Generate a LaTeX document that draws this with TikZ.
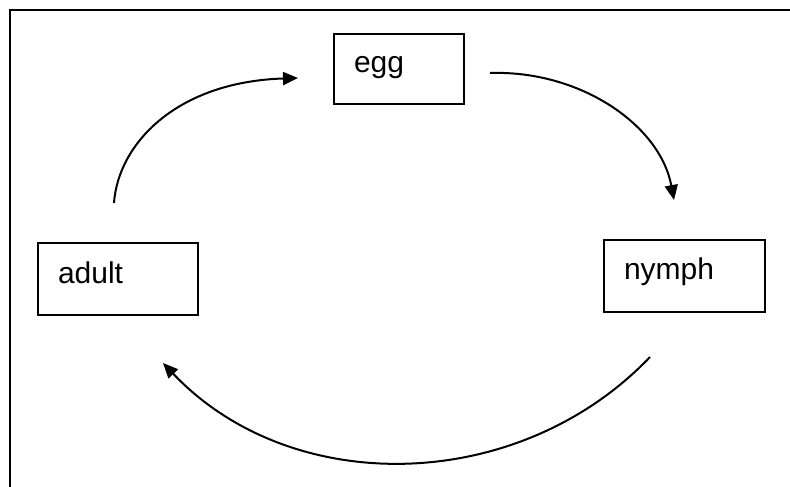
\documentclass[tikz,border=0pt]{standalone}
\usepackage{fontspec}
\setmainfont{Liberation Sans}
\usetikzlibrary{arrows.meta}
\begin{document}
\begin{tikzpicture}[x=1pt,y=-1pt,
  stage/.style={draw, line width=2pt, anchor=north west, inner xsep=20pt, inner ysep=0pt,
    align=left, font=\fontsize{30}{36}\selectfont},
  cycarrow/.style={line width=2pt, -{Triangle[length=15pt,width=13pt]}},
  frameline/.style={line width=2.5pt}]
\useasboundingbox (0,0) rectangle (790,487);
\draw[frameline] (790,10) -- (10,10) -- (10,487);
\node[stage, text width=90pt, text height=39pt, text depth=31pt] (egg) at (333,33) {egg};
\node[stage, text width=120pt, text height=40pt, text depth=32pt] (adult) at (37,242) {adult};
\node[stage, text width=121pt, text height=39pt, text depth=33pt] (nymph) at (603,239) {nymph};
\draw[cycarrow] ([shift={(-4,-39)}]adult.north) .. controls (118,145) and (175,82) .. ([shift={(-35,9)}]egg.west);
\draw[cycarrow] ([shift={(25,4)}]egg.east) .. controls (580,70) and (660,125) .. ([shift={(-10.5,-39)}]nymph.north);
\draw[cycarrow] ([shift={(-34.5,44)}]nymph.south) .. controls (519,494) and (292,499) .. ([shift={(45,47)}]adult.south);
\end{tikzpicture}
\end{document}
